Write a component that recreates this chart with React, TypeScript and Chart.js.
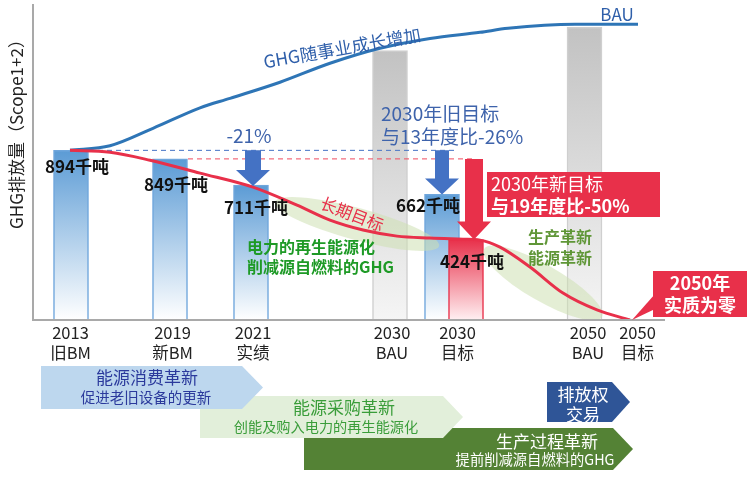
import React, { useEffect, useRef } from 'react';
import { Chart, registerables } from 'chart.js';

Chart.register(...registerables);

const FONT = '"Noto Sans CJK SC", "Noto Sans", sans-serif';

// ---- x-axis categories (position on the linear timeline axis) ----
const catYear = ['2013', '2019', '2021', '2030', '2030', '2050', '2050'];
const catSub = ['旧BM', '新BM', '实绩', 'BAU', '目标', 'BAU', '目标'];
const catPos = [37.5, 139.5, 220, 359, 424.5, 555, 604.5];

// ---- bars ----
const barPos = [38, 137, 218, 357, 409, 433, 551.5];
const barValues = [894, 849, 711, 1420, 662, 424, 1542];
const barKind = ['actual', 'actual', 'actual', 'bau', 'actual', 'target', 'bau'];
const barLabels = ['894千吨', '849千吨', '711千吨', '', '662千吨', '424千吨', ''];

// ---- BAU growth curve ----
const bauX = [37, 77, 120, 167, 197, 247, 297, 347, 397, 447, 475, 542, 605];
const bauY = [894, 918, 1010, 1118, 1168, 1253, 1353, 1432, 1484, 1516, 1537, 1558, 1558];

// ---- long-term target curve ----
const targetX = [37, 77, 117, 167, 220, 264, 297, 330, 364, 397, 430, 447, 467, 497, 530, 564, 597];
const targetY = [894, 884, 842, 774, 700, 605, 526, 474, 442, 432, 426, 421, 384, 279, 142, 53, 0];

// ---- reference dashed lines ----
const dashBlueX = [56, 425];
const dashBlueY = [894, 894];
const dashRedX = [155, 442];
const dashRedY = [849, 849];

const Y_MAX = 1660;
const X_MAX = 632;

// label layout offsets (px)
const labelDx = [6, 6, 5, 0, -14, 6, 0];
const labelDy = [16, 26, 22, 0, 11, 22, 0];

function txt(c: CanvasRenderingContext2D, s: string, x: number, y: number, size: number, color: string,
  o: { bold?: boolean; align?: CanvasTextAlign; rot?: number } = {}) {
  c.save();
  c.font = `${o.bold ? 'bold ' : ''}${size}px ${FONT}`;
  c.fillStyle = color;
  c.textAlign = o.align ?? 'center';
  c.textBaseline = 'middle';
  c.translate(x, y);
  if (o.rot) c.rotate((o.rot * Math.PI) / 180);
  c.fillText(s, 0, 0);
  c.restore();
}

function chevron(c: CanvasRenderingContext2D, x0: number, x1: number, tip: number, yT: number, yB: number, color: string) {
  c.beginPath();
  c.moveTo(x0, yT);
  c.lineTo(x1, yT);
  c.lineTo(tip, (yT + yB) / 2);
  c.lineTo(x1, yB);
  c.lineTo(x0, yB);
  c.closePath();
  c.fillStyle = color;
  c.fill();
}

function downArrow(c: CanvasRenderingContext2D, cx: number, yTop: number, yTip: number, shaftW: number, headW: number, headH: number, color: string) {
  const hs = yTip - headH;
  c.beginPath();
  c.moveTo(cx - shaftW / 2, yTop);
  c.lineTo(cx + shaftW / 2, yTop);
  c.lineTo(cx + shaftW / 2, hs);
  c.lineTo(cx + headW / 2, hs);
  c.lineTo(cx, yTip);
  c.lineTo(cx - headW / 2, hs);
  c.lineTo(cx - shaftW / 2, hs);
  c.closePath();
  c.fillStyle = color;
  c.fill();
}

function ellipse(c: CanvasRenderingContext2D, cx: number, cy: number, a: number, b: number, deg: number) {
  c.beginPath();
  c.ellipse(cx, cy, a, b, (deg * Math.PI) / 180, 0, Math.PI * 2);
  c.fill();
}

const overlay = {
  id: 'overlay',
  afterDatasetDraw(chart: any, args: any) {
    if (args.meta.type !== 'bar') return;
    const c = chart.ctx as CanvasRenderingContext2D;
    c.save();
    c.fillStyle = 'rgba(205,224,178,0.55)';
    ellipse(c, 357, 224, 85, 16, 15);
    ellipse(c, 543, 283, 68, 18, 30);
    c.restore();
  },
  afterDatasetsDraw(chart: any) {
    const c = chart.ctx as CanvasRenderingContext2D;
    const xs = chart.scales.x;
    const ys = chart.scales.y;
    const area = chart.chartArea;
    const X = (v: number) => xs.getPixelForValue(v);
    const Y = (v: number) => ys.getPixelForValue(v);

    // axes
    c.save();
    c.strokeStyle = '#a9a9a9';
    c.lineWidth = 2;
    c.beginPath();
    c.moveTo(area.left, area.top - 1);
    c.lineTo(area.left, area.bottom);
    c.lineTo(area.right, area.bottom);
    c.stroke();
    c.restore();

    // x labels
    catYear.forEach((yr, i) => {
      txt(c, yr, X(catPos[i]), area.bottom + 13, 16.5, '#222');
      txt(c, catSub[i], X(catPos[i]), area.bottom + 33, 16.5, '#222');
    });

    // y title
    txt(c, 'GHG排放量（Scope1+2）', 17, 130, 17, '#222', { rot: -90 });

    // arrows
    downArrow(c, X(220), Y(894), Y(711) + 1, 16, 34, 16, '#4472c4');
    downArrow(c, X(409), Y(894), Y(662), 14, 34, 16, '#4472c4');
    downArrow(c, X(441), Y(849), Y(424), 18, 34, 18, '#e8304a');

    // -21%
    txt(c, '-21%', 249, 136, 19, '#3e63ab');

    // old target text
    txt(c, '2030年旧目标', 381, 114, 19, '#3e63ab', { align: 'left' });
    txt(c, '与13年度比-26%', 381, 137, 19, '#3e63ab', { align: 'left' });

    // new target box
    c.fillStyle = '#e8304a';
    c.fillRect(487, 172, 173, 45);
    txt(c, '2030年新目标', 491, 184, 18, '#fff', { align: 'left' });
    txt(c, '与19年度比-50%', 491, 206, 18, '#fff', { align: 'left', bold: true });

    // value labels
    barLabels.forEach((s, i) => {
      if (!s) return;
      txt(c, s, X(barPos[i]) + labelDx[i], Y(barValues[i]) + labelDy[i], 17, '#111', { bold: true });
    });

    // curve annotations
    txt(c, 'GHG随事业成长增加', 342, 48, 17.5, '#2f5faa', { rot: -10 });
    txt(c, 'BAU', 617, 15, 17, '#2f5faa');
    txt(c, '长期目标', 352, 214, 16.5, '#e8304a', { rot: 21 });

    // green texts
    txt(c, '电力的再生能源化', 247, 247, 16, '#1e9a26', { align: 'left', bold: true });
    txt(c, '削减源自燃料的GHG', 247, 267, 16, '#1e9a26', { align: 'left', bold: true });
    txt(c, '生产革新', 560, 237, 16, '#5f9637', { bold: true });
    txt(c, '能源革新', 560, 258, 16, '#5f9637', { bold: true });

    // 2050 callout
    c.fillStyle = '#e8304a';
    c.fillRect(653, 271, 94, 46);
    c.beginPath();
    c.moveTo(655, 294);
    c.lineTo(X(599), area.bottom);
    c.lineTo(655, 309);
    c.closePath();
    c.fill();
    txt(c, '2050年', 700, 283, 18, '#fff', { bold: true });
    txt(c, '实质为零', 700, 305, 18, '#fff', { bold: true });

    // bottom chevrons
    chevron(c, 304, 613, 633, 428, 470, '#548235');
    chevron(c, 200, 443, 463, 396, 438, '#e2efda');
    chevron(c, 41, 242, 263, 366, 409, '#bdd7ee');
    chevron(c, 547, 612, 630, 382, 422, '#2f5597');

    txt(c, '能源消费革新', 147, 378, 17, '#2b3a9c');
    txt(c, '促进老旧设备的更新', 146, 397, 14.5, '#2b3a9c');
    txt(c, '能源采购革新', 344, 408, 17, '#3a9d3a');
    txt(c, '创能及购入电力的再生能源化', 326, 427, 14.2, '#3a9d3a');
    txt(c, '生产过程革新', 547, 442, 17, '#fff');
    txt(c, '提前削减源自燃料的GHG', 535, 460, 14.3, '#fff');
    c.save();
    c.beginPath();
    c.rect(547, 382, 90, 40);
    c.clip();
    txt(c, '排放权', 583, 395, 17, '#fff');
    txt(c, '交易', 583, 415, 17, '#fff');
    c.restore();
  },
};

export default function App() {
  const ref = useRef<HTMLCanvasElement>(null);
  useEffect(() => {
    document.body.style.margin = '0';
    const canvas = ref.current!;
    const barFill = (ctx: any) => {
      const chart = ctx.chart;
      const area = chart.chartArea;
      const kind = barKind[ctx.dataIndex];
      const cols = kind === 'bau' ? ['#c2c2c2', '#f5f5f5'] : kind === 'target' ? ['#e8304a', '#fff0f2'] : ['#5b9bd5', '#ffffff'];
      if (!area) return cols[0];
      const top = chart.scales.y.getPixelForValue(barValues[ctx.dataIndex]);
      const g = chart.ctx.createLinearGradient(0, top, 0, area.bottom);
      g.addColorStop(0, cols[0]);
      g.addColorStop(1, cols[1]);
      return g;
    };
    const barBorder = (ctx: any) => {
      const kind = barKind[ctx.dataIndex];
      return kind === 'bau' ? '#cfcfcf' : kind === 'target' ? '#e8304a' : '#6fa6dc';
    };
    const chart = new Chart(canvas, {
      type: 'bar',
      data: {
        datasets: [
          {
            type: 'bar',
            data: barPos.map((x, i) => ({ x, y: barValues[i] })),
            backgroundColor: barFill,
            borderColor: barBorder,
            borderWidth: 1.5,
            barThickness: 35,
            order: 10,
          } as any,
          {
            type: 'line',
            data: dashBlueX.map((x, i) => ({ x, y: dashBlueY[i] })),
            borderColor: '#4472c4',
            borderWidth: 1,
            borderDash: [5, 4],
            pointRadius: 0,
            order: 6,
          },
          {
            type: 'line',
            data: dashRedX.map((x, i) => ({ x, y: dashRedY[i] })),
            borderColor: '#f04a5e',
            borderWidth: 1,
            borderDash: [5, 4],
            pointRadius: 0,
            order: 5,
          },
          {
            type: 'line',
            data: bauX.map((x, i) => ({ x, y: bauY[i] })),
            borderColor: '#2e75b6',
            borderWidth: 3,
            pointRadius: 0,
            cubicInterpolationMode: 'monotone',
            order: 2,
          },
          {
            type: 'line',
            data: targetX.map((x, i) => ({ x, y: targetY[i] })),
            borderColor: '#e8304a',
            borderWidth: 3,
            pointRadius: 0,
            cubicInterpolationMode: 'monotone',
            order: 1,
          },
        ],
      },
      options: {
        responsive: false,
        animation: false,
        devicePixelRatio: 1,
        layout: { padding: { left: 33, right: 85, top: 5, bottom: 157 } },
        plugins: { legend: { display: false }, tooltip: { enabled: false } },
        scales: {
          x: { type: 'linear', min: 0, max: X_MAX, offset: false, display: false },
          y: { type: 'linear', min: 0, max: Y_MAX, display: false },
        },
      },
      plugins: [overlay],
    } as any);
    return () => chart.destroy();
  }, []);
  return (
    <div style={{ width: 750, height: 477 }}>
      <canvas ref={ref} width={750} height={477} style={{ display: 'block' }} />
    </div>
  );
}
